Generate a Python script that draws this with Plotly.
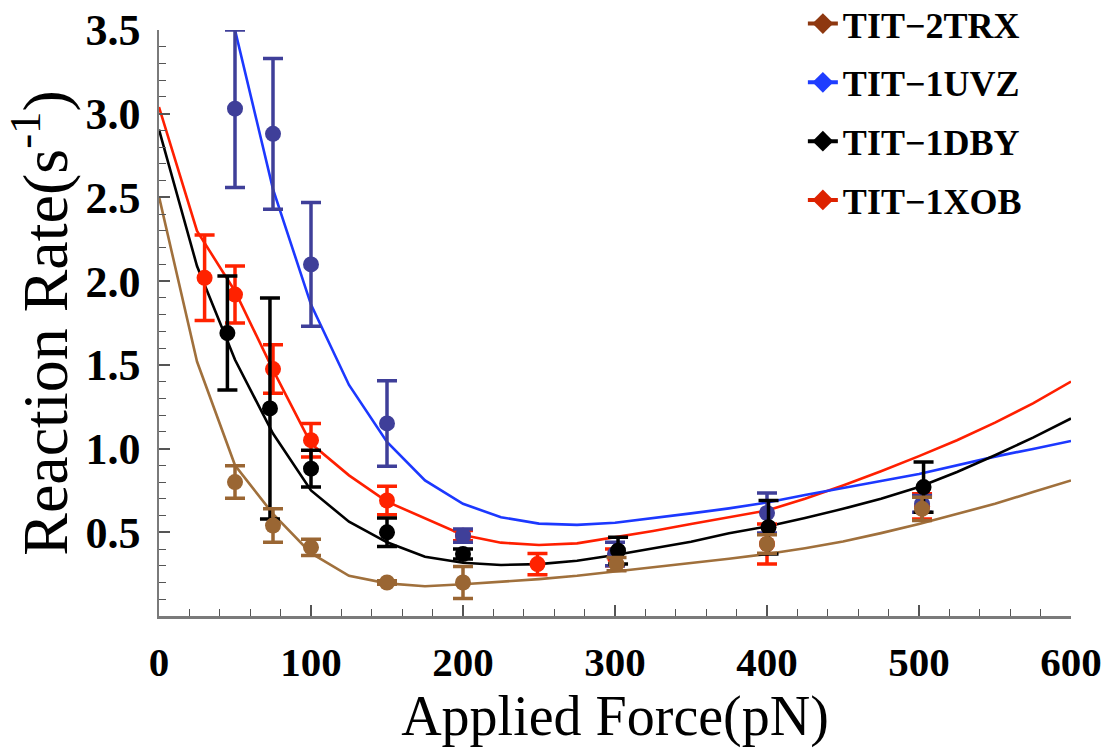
import plotly.graph_objects as go

# Fitted rate curves, sampled every 25 pN
fit_force = [0, 25, 50, 75, 100, 125, 150, 175, 200, 225, 250, 275, 300,
             325, 350, 375, 400, 425, 450, 475, 500, 525, 550, 575, 600]
fit_force_1uvz = fit_force[2:]

fit_2trx = [2.505, 1.52, 0.90, 0.61, 0.375, 0.24, 0.195, 0.178, 0.19, 0.205, 0.22, 0.24, 0.265,
            0.29, 0.315, 0.342, 0.37, 0.405, 0.445, 0.495, 0.55, 0.61, 0.67, 0.74, 0.81]
fit_1uvz = [3.50, 2.55, 1.86, 1.38, 1.04, 0.81, 0.67, 0.59, 0.552, 0.544, 0.557,
            0.584, 0.613, 0.643, 0.678, 0.723, 0.763, 0.806, 0.848, 0.902, 0.952, 0.998, 1.045]
fit_1dby = [2.905, 2.09, 1.53, 1.09, 0.75, 0.563, 0.44, 0.354, 0.318, 0.305, 0.31, 0.33, 0.364,
            0.404, 0.444, 0.494, 0.535, 0.585, 0.64, 0.70, 0.77, 0.86, 0.96, 1.065, 1.18]
fit_1xob = [3.04, 2.30, 1.94, 1.47, 1.03, 0.84, 0.683, 0.584, 0.484, 0.438, 0.424, 0.434, 0.47,
            0.508, 0.55, 0.59, 0.63, 0.70, 0.78, 0.865, 0.955, 1.05, 1.155, 1.27, 1.40]

# Measured rates with error bars
force_2trx = [50, 75, 100, 150, 200, 301, 400, 502]
rate_2trx = [0.80, 0.54, 0.41, 0.20, 0.20, 0.31, 0.43, 0.64]
err_2trx = [0.097, 0.10, 0.048, 0.01, 0.095, 0.04, 0.055, 0.07]

force_1uvz = [50, 75, 100, 150, 200, 300, 400, 502]
rate_1uvz = [3.03, 2.88, 2.10, 1.15, 0.48, 0.37, 0.615, 0.67]
err_1uvz = [0.47, 0.45, 0.37, 0.255, 0.04, 0.07, 0.12, 0.05]

force_1dby = [45, 73, 100, 150, 200, 302, 401, 503]
rate_1dby = [1.69, 1.24, 0.88, 0.50, 0.37, 0.39, 0.53, 0.77]
err_1dby = [0.34, 0.66, 0.11, 0.085, 0.03, 0.08, 0.16, 0.15]

force_1xob = [30, 50, 75, 100, 150, 200, 249, 300, 400, 502]
rate_1xob = [2.02, 1.92, 1.475, 1.05, 0.69, 0.48, 0.31, 0.35, 0.43, 0.655]
err_1xob = [0.255, 0.17, 0.145, 0.10, 0.085, 0.03, 0.063, 0.05, 0.12, 0.075]

x_ticks = [0, 100, 200, 300, 400, 500, 600]
y_ticks = [0.5, 1.0, 1.5, 2.0, 2.5, 3.0, 3.5]
y_tick_text = ["0.5", "1.0", "1.5", "2.0", "2.5", "3.0", "3.5"]

names = ["TIT\u22122TRX", "TIT\u22121UVZ", "TIT\u22121DBY", "TIT\u22121XOB"]

SERIF = "Liberation Serif, Times New Roman, serif"

series = {
    "TIT\u22121XOB": dict(fx=fit_force, fy=fit_1xob, x=force_1xob, y=rate_1xob, e=err_1xob,
                          line="#ff1f00", mark="#ff2200", leg="#dd2200"),
    "TIT\u22121UVZ": dict(fx=fit_force_1uvz, fy=fit_1uvz, x=force_1uvz, y=rate_1uvz, e=err_1uvz,
                          line="#1c38ff", mark="#3f3f99", leg="#1f3dff"),
    "TIT\u22121DBY": dict(fx=fit_force, fy=fit_1dby, x=force_1dby, y=rate_1dby, e=err_1dby,
                          line="#000000", mark="#000000", leg="#000000"),
    "TIT\u22122TRX": dict(fx=fit_force, fy=fit_2trx, x=force_2trx, y=rate_2trx, e=err_2trx,
                          line="#a0703c", mark="#9a6633", leg="#8e3810"),
}

fig = go.Figure()

# drawing order: red, blue, black, brown on top
order = ["TIT\u22121XOB", "TIT\u22121UVZ", "TIT\u22121DBY", "TIT\u22122TRX"]
for name in order:
    s = series[name]
    fig.add_trace(go.Scatter(
        x=s["fx"], y=s["fy"], mode="lines", showlegend=False,
        line=dict(color=s["line"], width=2.6), hoverinfo="skip"))
for name in order:
    s = series[name]
    fig.add_trace(go.Scatter(
        x=s["x"], y=s["y"], mode="markers", showlegend=False, cliponaxis=False,
        marker=dict(color=s["mark"], size=16, symbol="circle"),
        error_y=dict(type="data", array=s["e"], visible=True,
                     color=s["mark"], thickness=3.5, width=10)))

# legend entries
for i, name in enumerate(names):
    s = series[name]
    fig.add_trace(go.Scatter(
        x=[None], y=[None], mode="lines+markers", name=name,
        legendgroup=name, legendrank=i,
        line=dict(color=s["leg"], width=4),
        marker=dict(color=s["leg"], symbol="diamond", size=20)))

tick_common = dict(
    showgrid=False, zeroline=False, showline=True, linecolor="#7a7a7a",
    ticks="inside", ticklen=11, tickwidth=1.5, tickcolor="#555555",
)

fig.update_xaxes(
    range=[0, 600], tickvals=x_ticks, ticklabelstandoff=8, linewidth=3,
    tickfont=dict(family=SERIF, size=41, color="black", weight="bold"),
    minor=dict(dtick=20, tick0=0, ticks="inside", ticklen=7, tickwidth=1.2, tickcolor="#555555"),
    title=dict(text="Applied Force(pN)", font=dict(family=SERIF, size=56, color="black"), standoff=0),
    **tick_common)
fig.update_yaxes(
    range=[0, 3.5], tickvals=y_ticks, ticktext=y_tick_text, ticklabelstandoff=8, linewidth=1.5,
    tickfont=dict(family=SERIF, size=44, color="black", weight="bold"),
    minor=dict(dtick=0.1, tick0=0, ticks="inside", ticklen=7, tickwidth=1.2, tickcolor="#555555"),
    title=dict(text="Reaction Rate(s<sup>-1</sup>)", font=dict(family=SERIF, size=64, color="black"), standoff=25),
    **tick_common)

fig.update_layout(
    width=1107, height=748,
    margin=dict(l=159, r=36, t=30, b=132, autoexpand=False),
    paper_bgcolor="white", plot_bgcolor="white",
    legend=dict(x=0.706, y=1.062, xanchor="left", yanchor="top",
                font=dict(family=SERIF, size=36, color="black", weight="bold"),
                tracegroupgap=9, bgcolor="rgba(0,0,0,0)"),
    showlegend=True,
)

fig.write_html("out.html")
